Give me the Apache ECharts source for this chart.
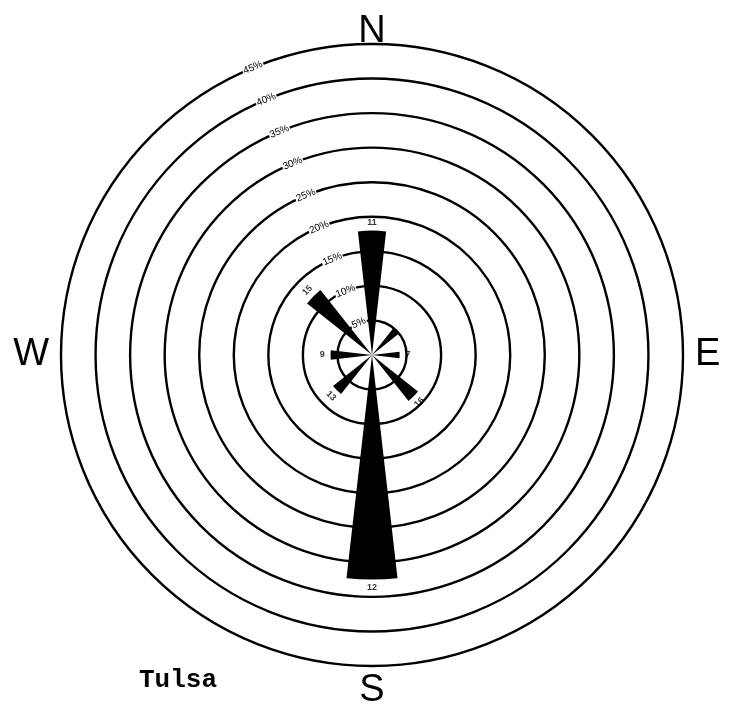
<!DOCTYPE html>
<html><head><meta charset="utf-8">
<script src="https://cdn.jsdelivr.net/npm/echarts@6/dist/echarts.min.js"></script>
<style>html,body{margin:0;padding:0;background:#fff}#c{width:731px;height:706px}</style>
</head><body><div id="c"></div>
<script>
// Wind rose data (percent frequency by direction, mean speed labels)
const directions = ['N', 'NE', 'E', 'SE', 'S', 'SW', 'W', 'NW'];
const frequency = [18, 5, 4, 8.5, 32.5, 7.2, 6, 12];
const meanSpeed = [11, null, 7, 16, 12, 13, 9, 15];
const radiusTickLabels = ['5%', '10%', '15%', '20%', '25%', '30%', '35%', '40%', '45%'];
const cardinalLabels = ['N', 'E', 'S', 'W'];
const stationName = 'Tulsa';

const chart = echarts.init(document.getElementById('c'), null, {renderer: 'canvas'});

function labelRotation(i) {
  if (i % 2 === 0) return 0;
  let r = -i * 45;
  r = ((r % 180) + 180) % 180;
  if (r > 90) r -= 180;
  return r;
}

// per-letter placement tweaks for the compass letters
const cardinalStyle = {
  N: {lineHeight: 12},
  E: {verticalAlign: 'top', lineHeight: 10, padding: [0, 0, 0, 6]},
  S: {},
  W: {verticalAlign: 'top', lineHeight: 4, padding: [0, 6, 0, 0]}
};
const angleData = directions.map(d => ({value: d, textStyle: cardinalStyle[d] || {}}));

const speedLabelData = frequency.map((f, i) => meanSpeed[i] == null ? null : {
  value: [f + 1.2, i],
  label: {rotate: labelRotation(i), formatter: String(meanSpeed[i])}
});

chart.setOption({
  animation: false,
  backgroundColor: '#fff',
  title: {
    text: stationName, left: 134, top: 662,
    textStyle: {fontFamily: 'Liberation Mono', fontWeight: 'bold', fontSize: 26, color: '#000'}
  },
  polar: {center: [372, 355], radius: 311},
  angleAxis: {
    type: 'category', data: angleData, startAngle: 112.5, clockwise: true,
    axisLine: {show: false}, axisTick: {show: false}, splitLine: {show: false},
    axisLabel: {
      formatter: v => cardinalLabels.includes(v) ? v : '',
      fontSize: 38, margin: 6, color: '#000', fontFamily: 'Liberation Sans'
    }
  },
  radiusAxis: {
    min: 0, max: 45, interval: 5, z: 5,
    axisLine: {show: false}, axisTick: {show: false},
    splitLine: {show: true, lineStyle: {color: '#000', width: 2.4}},
    axisLabel: {
      margin: 0, align: 'center', verticalAlign: 'middle', rotate: 22.5,
      fontSize: 10, color: '#000', fontFamily: 'Liberation Sans',
      backgroundColor: '#fff', padding: [0, 1],
      formatter: v => v === 0 ? '' : radiusTickLabels[Math.round(v / 5) - 1]
    }
  },
  series: [{
    type: 'bar', coordinateSystem: 'polar', data: frequency,
    barWidth: '29%', itemStyle: {color: '#000'}, z: 3
  }, {
    type: 'scatter', coordinateSystem: 'polar', data: speedLabelData,
    symbolSize: 1, itemStyle: {color: 'rgba(0,0,0,0)'}, z: 4,
    label: {show: true, position: 'inside', fontSize: 9, fontWeight: 'bold', color: '#000', fontFamily: 'Liberation Sans'}
  }]
});
</script></body></html>
